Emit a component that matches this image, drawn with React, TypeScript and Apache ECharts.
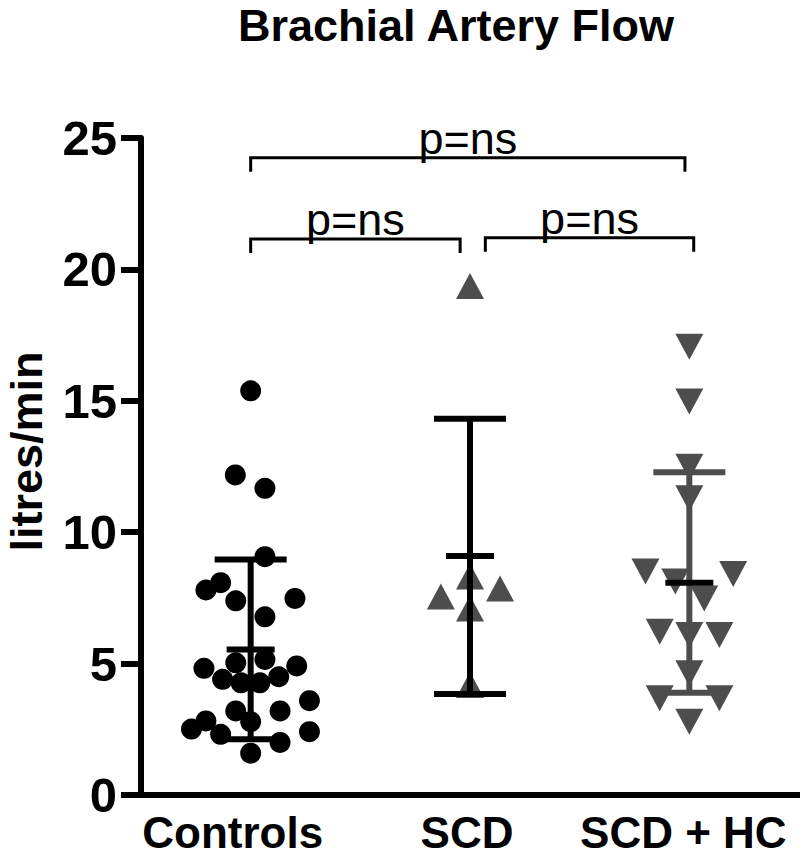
import React, { useEffect, useRef } from "react";
import * as echarts from "echarts";

const categories = ["Controls", "SCD", "SCD + HC"];
const yMin = 0;
const yMax = 25;
const yStep = 5;

// [x jitter offset (category units), value]
const controlsPoints = [
  [0, 15.38], [-0.07, 12.18], [0.065, 11.67], [0.065, 9.07], [-0.137, 8.08],
  [-0.204, 7.8], [0.202, 7.48], [-0.068, 7.39], [0.065, 6.78], [0.065, 5.16],
  [-0.068, 5.03], [-0.213, 4.82], [0.21, 4.91], [-0.128, 4.4], [-0.044, 4.27],
  [0.042, 4.27], [0.128, 4.5], [0.268, 3.59], [-0.068, 3.2], [0.134, 3.2],
  [0, 2.79], [-0.204, 2.82], [-0.27, 2.51], [-0.137, 2.31], [0.268, 2.41],
  [0.134, 2.0], [0, 1.59],
];
const scdPoints = [
  [0, 19.37], [0, 8.31], [0.137, 7.86], [-0.133, 7.55], [0, 7.1], [0, 4.19],
];
const scdHcPoints = [
  [0, 17.06], [0, 14.97], [0, 12.49], [0, 11.29], [-0.2, 8.5], [0.2, 8.41],
  [-0.064, 8.12], [0.068, 7.48], [-0.135, 6.21], [0, 6.09], [0.137, 6.09],
  [0, 4.63], [-0.135, 3.68], [0.137, 3.68], [0, 2.79],
];

const means = [5.54, 9.09, 8.08];
const sdLow = [2.12, 3.84, 3.89];
const sdHigh = [8.96, 14.32, 12.28];

// brackets: [x start, x end, y level]
const bracketStart = [0, 0, 1.07];
const bracketEnd = [1.98, 0.955, 2.02];
const bracketLevel = [24.25, 21.16, 21.2];
const bracketLabels = ["p=ns", "p=ns", "p=ns"];

const FONT = '"Liberation Sans", Arial, sans-serif';

export default function App() {
  const ref = useRef<HTMLDivElement>(null);

  useEffect(() => {
    if (!ref.current) return;
    const chart = echarts.init(ref.current, undefined, { renderer: "svg" });

    const toData = (pts: number[][], idx: number) =>
      pts.map((p) => [idx + p[0], p[1]]);

    const errData = categories.map((_, i) => [i, sdLow[i], means[i], sdHigh[i]]);
    const errColors = ["#000", "#000", "#4d4d4d"];

    const bracketData = bracketLevel.map((y, i) => [bracketStart[i], bracketEnd[i], y]);

    const labelBase = {
      fontFamily: FONT,
      fontWeight: "bold",
      fontSize: 44,
      lineHeight: 34,
      color: "#000",
    };

    const option: any = {
      animation: false,
      backgroundColor: "#fff",
      title: {
        text: "Brachial Artery Flow",
        left: 456,
        textAlign: "center",
        top: 2,
        padding: 0,
        textStyle: { fontFamily: FONT, fontWeight: "bold", fontSize: 45, lineHeight: 46, color: "#000" },
      },
      grid: {
        left: 141,
        right: 1,
        top: 138,
        bottom: 61,
        containLabel: false,
        outerBoundsMode: "none",
      },
      xAxis: [
        {
          type: "category",
          data: categories,
          boundaryGap: true,
          axisLine: { onZero: false, lineStyle: { color: "#000", width: 6 } },
          axisTick: { alignWithLabel: true, length: 18, lineStyle: { color: "#000", width: 6 } },
          axisLabel: {
            interval: 0,
            ...labelBase,
            margin: 20,
            formatter: (v: string) => {
              const i = categories.indexOf(v);
              return `{l${i}|${v}}`;
            },
            rich: {
              l0: { ...labelBase, padding: [0, 36, 0, 0] },
              l1: { ...labelBase, padding: [0, 6, 0, 0] },
              l2: { ...labelBase, padding: [0, 12, 0, 0] },
            },
          },
          splitLine: { show: false },
        },
        {
          type: "value",
          min: -0.5,
          max: 2.5,
          show: false,
          axisLine: { onZero: false },
        },
      ],
      yAxis: {
        type: "value",
        min: yMin,
        max: yMax,
        interval: yStep,
        name: "litres/min",
        nameLocation: "middle",
        nameRotate: 90,
        nameGap: 95,
        nameTextStyle: {
          fontFamily: FONT,
          fontWeight: "bold",
          fontSize: 45,
          lineHeight: 40,
          color: "#000",
          padding: [0, 0, 0, 30],
        },
        axisLine: { show: true, onZero: false, lineStyle: { color: "#000", width: 6 } },
        axisTick: { show: true, length: 20, lineStyle: { color: "#000", width: 6 } },
        axisLabel: {
          fontFamily: FONT,
          fontWeight: "bold",
          fontSize: 49,
          color: "#000",
          margin: 24,
        },
        splitLine: { show: false },
      },
      series: [
        {
          type: "scatter",
          xAxisIndex: 1,
          data: toData(controlsPoints, 0),
          symbol: "circle",
          symbolSize: 21,
          itemStyle: { color: "#000", opacity: 1 },
          z: 2,
        },
        {
          type: "scatter",
          xAxisIndex: 1,
          data: toData(scdPoints, 1),
          symbol: "triangle",
          symbolSize: [28, 26],
          itemStyle: { color: "#4d4d4d", opacity: 1 },
          z: 2,
        },
        {
          type: "scatter",
          xAxisIndex: 1,
          data: toData(scdHcPoints, 2),
          symbol: "triangle",
          symbolRotate: 180,
          symbolSize: [28, 26],
          itemStyle: { color: "#4d4d4d", opacity: 1 },
          z: 2,
        },
        {
          type: "custom",
          xAxisIndex: 1,
          data: errData,
          z: 3,
          encode: { x: 0, y: [1, 2, 3] },
          renderItem: (params: any, api: any) => {
            const x = api.value(0);
            const lo = api.coord([x, api.value(1)]);
            const mid = api.coord([x, api.value(2)]);
            const hi = api.coord([x, api.value(3)]);
            const c = errColors[params.dataIndex];
            const capHalf = 36;
            const meanHalf = 24;
            const lw = 6;
            return {
              type: "group",
              children: [
                { type: "line", shape: { x1: hi[0], y1: hi[1], x2: lo[0], y2: lo[1] }, style: { stroke: c, lineWidth: lw } },
                { type: "line", shape: { x1: hi[0] - capHalf, y1: hi[1], x2: hi[0] + capHalf, y2: hi[1] }, style: { stroke: c, lineWidth: lw } },
                { type: "line", shape: { x1: lo[0] - capHalf, y1: lo[1], x2: lo[0] + capHalf, y2: lo[1] }, style: { stroke: c, lineWidth: lw } },
                { type: "line", shape: { x1: mid[0] - meanHalf, y1: mid[1], x2: mid[0] + meanHalf, y2: mid[1] }, style: { stroke: "#000", lineWidth: lw } },
              ],
            };
          },
        },
        {
          type: "custom",
          xAxisIndex: 1,
          data: bracketData,
          z: 4,
          clip: false,
          encode: { x: [0, 1], y: 2 },
          renderItem: (params: any, api: any) => {
            const y = api.value(2);
            const p1 = api.coord([api.value(0), y]);
            const p2 = api.coord([api.value(1), y]);
            const leg = 14;
            return {
              type: "group",
              children: [
                {
                  type: "polyline",
                  shape: { points: [[p1[0], p1[1] + leg], [p1[0], p1[1]], [p2[0], p2[1]], [p2[0], p2[1] + leg]] },
                  style: { stroke: "#000", lineWidth: 3, fill: null },
                },
                {
                  type: "text",
                  style: {
                    text: bracketLabels[params.dataIndex],
                    x: (p1[0] + p2[0]) / 2,
                    y: p1[1] + 3,
                    align: "center",
                    verticalAlign: "bottom",
                    font: `45px ${FONT}`,
                    fill: "#000",
                  },
                },
              ],
            };
          },
        },
      ],
    };

    chart.setOption(option);
    return () => chart.dispose();
  }, []);

  return (
    <div
      ref={ref}
      style={{ position: "fixed", left: 0, top: 0, width: 800, height: 856, background: "#fff" }}
    />
  );
}
